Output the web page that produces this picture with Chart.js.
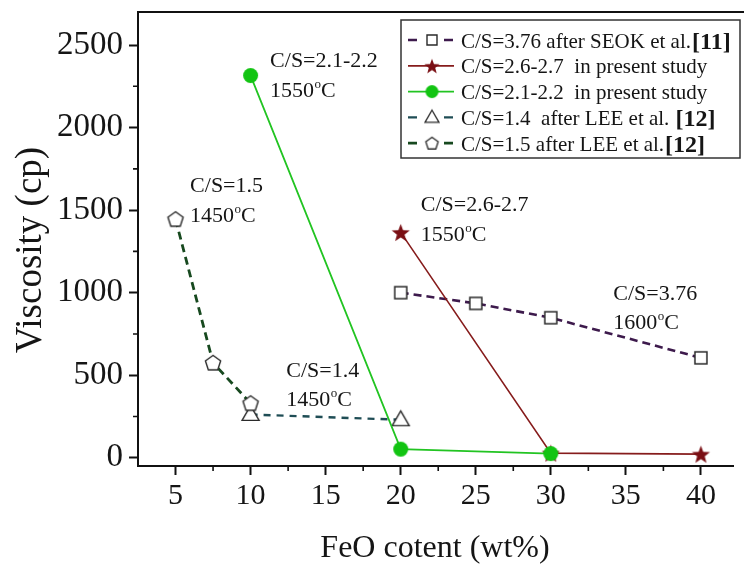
<!DOCTYPE html>
<html><head><meta charset="utf-8">
<script src="https://cdn.jsdelivr.net/npm/chart.js@4/dist/chart.umd.min.js"></script>
<style>html,body{margin:0;padding:0;background:#fff;}#wrap{width:744px;height:568px;}</style>
</head><body><div id="wrap"><canvas id="c" width="744" height="568"></canvas></div>
<script>
// ---- data ----
const xTickValues = [5, 10, 15, 20, 25, 30, 35, 40];
const yTickValues = [0, 500, 1000, 1500, 2000, 2500];
const xTitle = 'FeO cotent (wt%)';
const yTitle = 'Viscosity (cp)';

const seokX = [20, 25, 30, 40];
const seokY = [1000, 935, 848, 605];
const cs27X = [20, 30, 40];
const cs27Y = [1365, 28, 22];
const cs22X = [10, 20, 30];
const cs22Y = [2315, 52, 25];
const lee14X = [10, 20];
const lee14Y = [262, 230];
const lee15X = [5, 7.5, 10];
const lee15Y = [1445, 575, 330];

const legendTexts = [
  ['C/S=3.76 after SEOK et al.', '[11]'],
  ['C/S=2.6-2.7  in present study', ''],
  ['C/S=2.1-2.2  in present study', ''],
  ['C/S=1.4  after LEE et al. ', '[12]'],
  ['C/S=1.5 after LEE et al.', '[12]']
];
const annotations = [
  {x: 11.3, y: 2365, l1: 'C/S=2.1-2.2', t: '1550'},
  {x: 5.97, y: 1607, l1: 'C/S=1.5', t: '1450'},
  {x: 12.38, y: 491, l1: 'C/S=1.4', t: '1450'},
  {x: 21.34, y: 1492, l1: 'C/S=2.6-2.7', t: '1550'},
  {x: 34.16, y: 958, l1: 'C/S=3.76', t: '1600'}
];

// ---- styles ----
const FONT = "'Liberation Serif','Times New Roman',serif";
const TXT = '#151515';
const C_SEOK = '#3d1a4c', C_RED = '#861c1c', C_STAR = '#7a0f14', C_GREEN = '#22c422', C_GFILL = '#12c412', C_TRI = '#1f4d55', C_PENT = '#17491f', C_OPEN = '#2a2a2a';

function makeMarker(shape, size, fill, stroke, lw) {
  const pad = Math.ceil(lw) + 1;
  const dim = Math.ceil(size + 2 * pad);
  const c = document.createElement('canvas');
  c.width = dim; c.height = dim;
  const g = c.getContext('2d');
  const cx = dim / 2, cy = dim / 2, r = size / 2;
  g.beginPath();
  if (shape === 'square') {
    g.rect(cx - r, cy - r, size, size);
  } else if (shape === 'circle') {
    g.arc(cx, cy, r, 0, Math.PI * 2);
  } else if (shape === 'triangle') {
    const h = size * 0.866;
    g.moveTo(cx, cy - h * 0.6);
    g.lineTo(cx + r, cy + h * 0.4);
    g.lineTo(cx - r, cy + h * 0.4);
    g.closePath();
  } else if (shape === 'pentagon') {
    for (let i = 0; i < 5; i++) {
      const a = -Math.PI / 2 + i * 2 * Math.PI / 5;
      const px = cx + r * Math.cos(a), py = cy + 0.5 + r * Math.sin(a);
      i ? g.lineTo(px, py) : g.moveTo(px, py);
    }
    g.closePath();
  } else if (shape === 'star') {
    for (let i = 0; i < 10; i++) {
      const a = -Math.PI / 2 + i * Math.PI / 5;
      const rr = i % 2 ? r * 0.42 : r;
      const px = cx + rr * Math.cos(a), py = cy + 1 + rr * Math.sin(a);
      i ? g.lineTo(px, py) : g.moveTo(px, py);
    }
    g.closePath();
  }
  if (fill) { g.fillStyle = fill; g.fill(); }
  if (stroke) { g.lineWidth = lw; g.strokeStyle = stroke; g.stroke(); }
  return c;
}

const mk = {
  sq: makeMarker('square', 12, '#fff', C_OPEN, 1.5),
  star: makeMarker('star', 19, C_STAR, null, 0),
  circ: makeMarker('circle', 15, C_GFILL, null, 0),
  tri: makeMarker('triangle', 17, '#fff', C_OPEN, 1.4),
  pent: makeMarker('pentagon', 16, '#fff', C_OPEN, 1.4)
};
const lg = {
  sq: makeMarker('square', 10, '#fff', C_OPEN, 1.4),
  star: makeMarker('star', 16, C_STAR, null, 0),
  circ: makeMarker('circle', 13, C_GFILL, null, 0),
  tri: makeMarker('triangle', 14, '#fff', C_OPEN, 1.3),
  pent: makeMarker('pentagon', 13, '#fff', C_OPEN, 1.3)
};

function pts(xs, ys) { return xs.map((x, i) => ({x: x, y: ys[i]})); }

const datasets = [
  {label: 'seok', data: pts(seokX, seokY), borderColor: C_SEOK, borderWidth: 2.6, borderDash: [8, 5], pointStyle: mk.sq, order: 4},
  {label: 'cs27', data: pts(cs27X, cs27Y), borderColor: C_RED, borderWidth: 1.6, pointStyle: mk.star, order: 1},
  {label: 'cs22', data: pts(cs22X, cs22Y), borderColor: C_GREEN, borderWidth: 1.8, pointStyle: mk.circ, order: 0},
  {label: 'lee14', data: pts(lee14X, lee14Y), borderColor: C_TRI, borderWidth: 2.4, borderDash: [7, 6], pointStyle: mk.tri, order: 3},
  {label: 'lee15', data: pts(lee15X, lee15Y), borderColor: C_PENT, borderWidth: 2.8, borderDash: [8, 5], pointStyle: mk.pent, order: 2}
].map(d => Object.assign({showLine: true, fill: false, tension: 0, pointRadius: 8, backgroundColor: d.borderColor}, d));

const legendStyle = [
  {m: lg.sq, color: C_SEOK, dashed: true, w: 2.6},
  {m: lg.star, color: C_RED, dashed: false, w: 1.8},
  {m: lg.circ, color: C_GREEN, dashed: false, w: 1.8},
  {m: lg.tri, color: C_TRI, dashed: true, w: 2.4},
  {m: lg.pent, color: C_PENT, dashed: true, w: 2.8}
];

const decor = {
  id: 'decor',
  afterDraw(chart) {
    const ctx = chart.ctx, a = chart.chartArea, xs = chart.scales.x, ys = chart.scales.y;
    ctx.save();
    // frame top
    ctx.strokeStyle = '#111'; ctx.lineWidth = 2;
    ctx.beginPath();
    ctx.moveTo(a.left, a.top); ctx.lineTo(744, a.top);
    ctx.stroke();
    // minor ticks
    ctx.lineWidth = 1.6;
    ctx.beginPath();
    for (let i = 0; i < xTickValues.length - 1; i++) {
      const v = (xTickValues[i] + xTickValues[i + 1]) / 2;
      const p = xs.getPixelForValue(v);
      ctx.moveTo(p, a.bottom); ctx.lineTo(p, a.bottom + 5);
    }
    for (let i = 0; i < yTickValues.length - 1; i++) {
      const v = (yTickValues[i] + yTickValues[i + 1]) / 2;
      const p = ys.getPixelForValue(v);
      ctx.moveTo(a.left, p); ctx.lineTo(a.left - 5, p);
    }
    ctx.stroke();

    // axis titles
    ctx.fillStyle = TXT;
    ctx.font = '32px ' + FONT;
    ctx.textAlign = 'center'; ctx.textBaseline = 'alphabetic';
    ctx.fillText(xTitle, 435, 557);
    ctx.save();
    ctx.translate(41, 250); ctx.rotate(-Math.PI / 2);
    ctx.font = '37px ' + FONT;
    ctx.fillText(yTitle, 0, 0);
    ctx.restore();

    // annotations
    ctx.textAlign = 'left';
    annotations.forEach(an => {
      const px = xs.getPixelForValue(an.x), py = ys.getPixelForValue(an.y);
      ctx.font = '22px ' + FONT;
      ctx.fillText(an.l1, px, py);
      const by = py + 29.5;
      ctx.fillText(an.t, px, by);
      let w = ctx.measureText(an.t).width;
      ctx.font = '13px ' + FONT;
      ctx.fillText('o', px + w + 0.5, by - 9);
      w += ctx.measureText('o').width + 0.5;
      ctx.font = '22px ' + FONT;
      ctx.fillText('C', px + w, by);
    });

    // legend
    const L = 401, T = 20, R = 740, B = 158;
    ctx.fillStyle = '#fff';
    ctx.fillRect(L, T, R - L, B - T);
    ctx.strokeStyle = '#333'; ctx.lineWidth = 1.5;
    ctx.strokeRect(L, T, R - L, B - T);
    legendStyle.forEach((s, i) => {
      const cy = 40 + i * 25.8;
      ctx.strokeStyle = s.color; ctx.lineWidth = s.w;
      ctx.beginPath();
      if (s.dashed) {
        ctx.moveTo(408, cy); ctx.lineTo(417, cy);
        ctx.moveTo(444, cy); ctx.lineTo(453, cy);
      } else {
        ctx.moveTo(408, cy); ctx.lineTo(454, cy);
      }
      ctx.stroke();
      ctx.drawImage(s.m, 432 - s.m.width / 2, cy - s.m.height / 2);
      ctx.fillStyle = TXT;
      ctx.font = '21px ' + FONT;
      ctx.fillText(legendTexts[i][0], 461, cy + 7.5);
      if (legendTexts[i][1]) {
        const w = ctx.measureText(legendTexts[i][0]).width;
        ctx.font = 'bold 24px ' + FONT;
        ctx.fillText(legendTexts[i][1], 461 + w + 1, cy + 8.5);
      }
    });
    ctx.restore();
  }
};

function zeroPad(s) { s.paddingTop = 0; s.paddingBottom = 0; s.paddingLeft = 0; s.paddingRight = 0; }

new Chart(document.getElementById('c'), {
  type: 'scatter',
  data: {datasets: datasets},
  options: {
    responsive: false, animation: false, devicePixelRatio: 1,
    layout: {padding: {top: 12, right: 0, left: 0, bottom: 0}},
    plugins: {legend: {display: false}, tooltip: {enabled: false}},
    events: [],
    scales: {
      x: {
        type: 'linear', min: 2.5, max: 42.15,
        afterBuildTicks: s => { s.ticks = xTickValues.map(v => ({value: v})); },
        afterFit: s => { s.height = 102; zeroPad(s); },
        grid: {display: true, drawOnChartArea: false, drawTicks: true, tickLength: 9, tickWidth: 2, color: '#111', tickColor: '#111'},
        border: {display: true, color: '#111', width: 2},
        ticks: {font: {size: 30, family: FONT}, color: TXT, padding: 3, maxRotation: 0, autoSkip: false, callback: v => String(v)}
      },
      y: {
        type: 'linear', min: -50, max: 2700,
        afterBuildTicks: s => { s.ticks = yTickValues.map(v => ({value: v})); },
        afterFit: s => { s.width = 138; zeroPad(s); },
        grid: {display: true, drawOnChartArea: false, drawTicks: true, tickLength: 9, tickWidth: 2, color: '#111', tickColor: '#111'},
        border: {display: true, color: '#111', width: 2},
        ticks: {font: {size: 33, family: FONT}, color: TXT, padding: 6, autoSkip: false, callback: v => String(v)}
      }
    }
  },
  plugins: [decor]
});
</script></body></html>
